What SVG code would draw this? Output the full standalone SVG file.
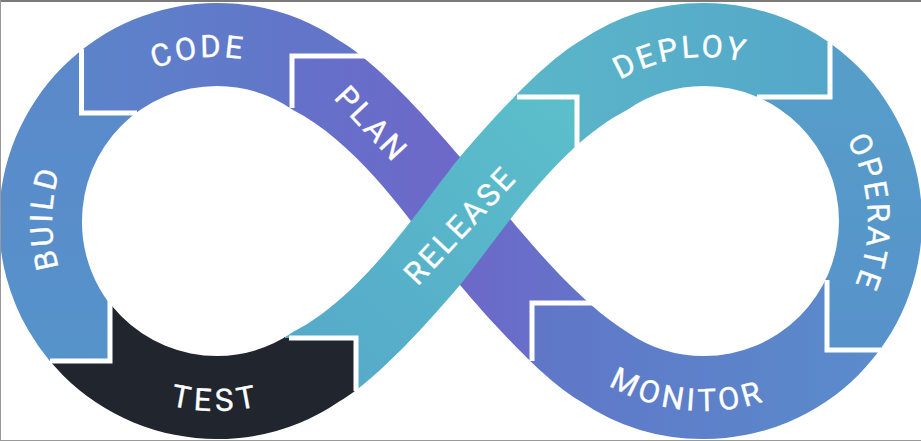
<svg xmlns="http://www.w3.org/2000/svg" width="921" height="441" viewBox="0 0 921 441">
<style>
.t{font-family:"Roboto","Liberation Sans",sans-serif;font-size:31px;font-weight:400;letter-spacing:3px;fill:#fff;stroke:#fff;stroke-width:.35;text-anchor:middle}
.div{fill:none;stroke:#fff;stroke-width:5}
</style>
<defs>
<path id="A" d="M108 410A218 218 0 0 1 -1 221A218 218 0 0 1 217 3A218 218 0 0 1 340 41C378 63 432 124 460 157C500 206 566 294 627 332A135 135 0 0 0 704 356A135 135 0 0 0 839 221A135 135 0 0 0 704 86L704 3A218 218 0 0 1 922 221A218 218 0 0 1 704 439A218 218 0 0 1 580 401C542 379 488 318 460 285C420 236 365 147 293 110A135 135 0 0 0 217 86A135 135 0 0 0 82 221A135 135 0 0 0 148 338Z"/>
<path id="B" d="M108 32A218 218 0 0 0 -1 221A218 218 0 0 0 217 439A218 218 0 0 0 340 401C378 379 432 318 460 285C500 236 555 147 627 110A135 135 0 0 1 704 86A135 135 0 0 1 839 221A135 135 0 0 1 704 356L704 439A218 218 0 0 0 922 221A218 218 0 0 0 704 3A218 218 0 0 0 580 41C542 63 488 124 460 157C420 206 365 295 293 332A135 135 0 0 1 217 356A135 135 0 0 1 82 221A135 135 0 0 1 148 104Z"/>
<path id="top" d="M-164 0A164 164 0 0 1 164 0"/>
<path id="bot" d="M-190 0A190 190 0 0 0 190 0"/>
<linearGradient id="gBuild" gradientUnits="userSpaceOnUse" x1="0" y1="361" x2="0" y2="50"><stop offset="0" stop-color="#5693cb"/><stop offset="1" stop-color="#5b88ca"/></linearGradient>
<linearGradient id="gCode" gradientUnits="userSpaceOnUse" x1="81" y1="0" x2="292" y2="0"><stop offset="0" stop-color="#5c84ca"/><stop offset="1" stop-color="#6275c9"/></linearGradient>
<linearGradient id="gPlan" gradientUnits="userSpaceOnUse" x1="292" y1="0" x2="590" y2="0"><stop offset="0" stop-color="#6471c9"/><stop offset=".55" stop-color="#6d68c9"/><stop offset="1" stop-color="#6474c9"/></linearGradient>
<linearGradient id="gMon" gradientUnits="userSpaceOnUse" x1="532" y1="0" x2="880" y2="0"><stop offset="0" stop-color="#6076c8"/><stop offset="1" stop-color="#5a8ccb"/></linearGradient>
<linearGradient id="gOp" gradientUnits="userSpaceOnUse" x1="0" y1="40" x2="0" y2="350"><stop offset="0" stop-color="#569fc9"/><stop offset="1" stop-color="#5792ca"/></linearGradient>
<linearGradient id="gDep" gradientUnits="userSpaceOnUse" x1="517" y1="0" x2="830" y2="0"><stop offset="0" stop-color="#5ab6c9"/><stop offset="1" stop-color="#55a7c9"/></linearGradient>
<linearGradient id="gRel" gradientUnits="userSpaceOnUse" x1="300" y1="390" x2="570" y2="100"><stop offset="0" stop-color="#55a8c9"/><stop offset="1" stop-color="#5bbfca"/></linearGradient>
<clipPath id="cBuild"><path d="M-2 0H81V113H140V298H110V361H-2Z"/></clipPath>
<clipPath id="cCode"><path d="M81 0H400V56H292V113H81Z"/></clipPath>
<clipPath id="cPlan"><path d="M292 56H620V303H532V441H292Z"/></clipPath>
<clipPath id="cMon"><path d="M532 303H650V270H827V350H921V441H532Z"/></clipPath>
<clipPath id="cOp"><path d="M760 97H830V0H921V350H827V200H760Z"/></clipPath>
<clipPath id="cDep"><path d="M460 0H830V97H757V200H577V97H460Z"/></clipPath>
<clipPath id="cRel"><path d="M577 97V441H356V338H250V97Z"/></clipPath>
<clipPath id="cTest"><path d="M110 298V361H40V441H356V338H285V298Z"/></clipPath>
</defs>
<rect width="921" height="441" fill="#fff"/>
<g id="plan"><use href="#A" fill="url(#gPlan)" clip-path="url(#cPlan)"/>
<text class="t" transform="translate(372 124) rotate(47)" y="11">PLAN</text></g>
<g id="monitor"><use href="#A" fill="url(#gMon)" clip-path="url(#cMon)"/>
<text class="t" style="letter-spacing:3.9px" transform="translate(704 221) rotate(5.5)"><textPath href="#bot" startOffset="50%">MONITOR</textPath></text></g>
<g id="code"><use href="#A" fill="url(#gCode)" clip-path="url(#cCode)"/>
<text class="t" transform="translate(216 221) rotate(-6)"><textPath href="#top" startOffset="50%">CODE</textPath></text></g>
<g id="build"><use href="#A" fill="url(#gBuild)" clip-path="url(#cBuild)"/>
<text class="t" transform="translate(216 221) rotate(-89)"><textPath href="#top" startOffset="50%">BUILD</textPath></text></g>
<g id="operate"><use href="#A" fill="url(#gOp)" clip-path="url(#cOp)"/>
<text class="t" transform="translate(704 221) rotate(87)"><textPath href="#top" startOffset="50%">OPERATE</textPath></text></g>
<g id="deploy"><use href="#B" fill="url(#gDep)" clip-path="url(#cDep)"/>
<text class="t" transform="translate(704 221) rotate(-8)"><textPath href="#top" startOffset="50%">DEPLOY</textPath></text></g>
<g id="release"><use href="#B" fill="url(#gRel)" clip-path="url(#cRel)"/>
<text class="t" transform="translate(460 225) rotate(-47)" y="11">RELEASE</text></g>
<g id="test"><use href="#B" fill="#20252e" clip-path="url(#cTest)"/>
<text class="t" style="letter-spacing:4.8px" transform="translate(216 221)"><textPath href="#bot" startOffset="50%">TEST</textPath></text></g>
<g id="connectors">
<path class="div" d="M81.5 49V113H137"/>
<path class="div" d="M292 108V56H366"/>
<path class="div" d="M517 97H577V155"/>
<path class="div" d="M830 42V97H757"/>
<path class="div" d="M827 280V350H881"/>
<path class="div" d="M532 361V303H594"/>
<path class="div" d="M110 298V361H50"/>
<path class="div" d="M356 391V338H289"/>
</g>
<path d="M0 1H921" stroke="#7a7a7a" stroke-width="2"/>
<path d="M.5 0V441M0 440.5H921" stroke="#999" fill="none"/>
</svg>
